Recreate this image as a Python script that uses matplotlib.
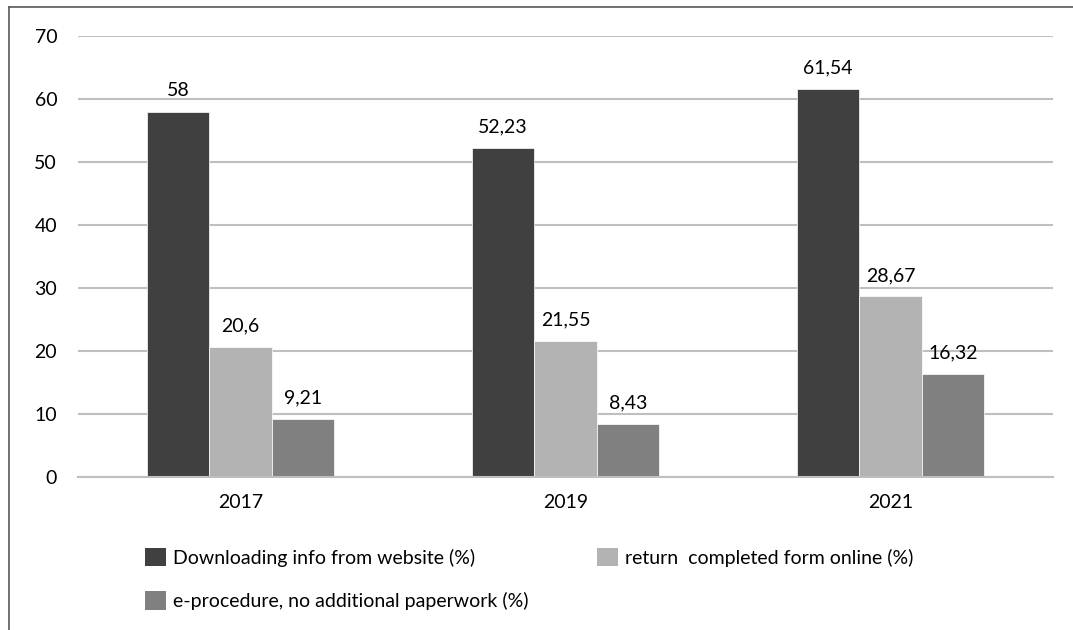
import matplotlib
matplotlib.use("Agg")
import matplotlib.pyplot as plt
from matplotlib.patches import Patch
from matplotlib.lines import Line2D
import numpy as np

plt.rcParams['font.family'] = ['Lato', 'DejaVu Sans']

years = ["2017", "2019", "2021"]
series_names = ["Downloading info from website (%)",
                "return  completed form online (%)",
                "e-procedure, no additional paperwork (%)"]
downloading = [58, 52.23, 61.54]
return_online = [20.6, 21.55, 28.67]
e_procedure = [9.21, 8.43, 16.32]
labels_dl = ["58", "52,23", "61,54"]
labels_ro = ["20,6", "21,55", "28,67"]
labels_ep = ["9,21", "8,43", "16,32"]
yticks = [0, 10, 20, 30, 40, 50, 60, 70]

colors = ["#404040", "#b3b3b3", "#808080"]
FS = 14

fig = plt.figure(figsize=(10.73, 6.30), dpi=100)
ax = fig.add_axes([78/1073, 1-477/630, (1053-78)/1073, (477-36)/630])

x = np.arange(len(years))
w = 0.192
all_vals = [downloading, return_online, e_procedure]
all_labels = [labels_dl, labels_ro, labels_ep]
for i, (vals, labs, c) in enumerate(zip(all_vals, all_labels, colors)):
    bars = ax.bar(x + (i - 1) * w, vals, width=w, color=c, edgecolor='white',
                  linewidth=0.5, zorder=3)
    for b, lab in zip(bars, labs):
        ax.annotate(lab, (b.get_x() + b.get_width()/2, b.get_height()),
                    xytext=(0, 9), textcoords='offset points',
                    ha='center', va='bottom', fontsize=FS, color='#000000')

ax.set_xlim(-0.5, 2.5)
ax.set_ylim(0, 70)
ax.set_yticks(yticks)
ax.set_yticklabels([str(t) for t in yticks])
ax.set_xticks(x)
ax.set_xticklabels(years)
ax.tick_params(axis='both', length=0, labelsize=FS, colors='#000000')
ax.tick_params(axis='y', pad=15)
ax.tick_params(axis='x', pad=12)
ax.grid(axis='y', color='#bfbfbf', linewidth=1.5, zorder=0)
for s in ['top', 'right', 'left']:
    ax.spines[s].set_visible(False)
ax.spines['bottom'].set_color('#bfbfbf')
ax.spines['bottom'].set_linewidth(1.5)
ax.spines['bottom'].set_zorder(4)

# legends
h = [Patch(facecolor=c, edgecolor='none') for c in colors]
leg_kw = dict(frameon=False, fontsize=FS, handlelength=1.08, handleheight=1.08,
              handletextpad=0.35, borderpad=0, borderaxespad=0, labelspacing=1.25,
              loc='upper left')
fig.legend([h[0], h[2]], [series_names[0], series_names[2]],
           bbox_to_anchor=(145/1073, 1-548/630), **leg_kw)
fig.legend([h[1]], [series_names[1]],
           bbox_to_anchor=(597/1073, 1-548/630), **leg_kw)

# outer frame (left and top visible)
fig.add_artist(Line2D([9/1073, 9/1073], [0, 1-7/630], transform=fig.transFigure,
                      color='#595959', linewidth=1.2))
fig.add_artist(Line2D([9/1073, 1], [1-7/630, 1-7/630], transform=fig.transFigure,
                      color='#595959', linewidth=1.2))

fig.savefig("out.png", dpi=100)
